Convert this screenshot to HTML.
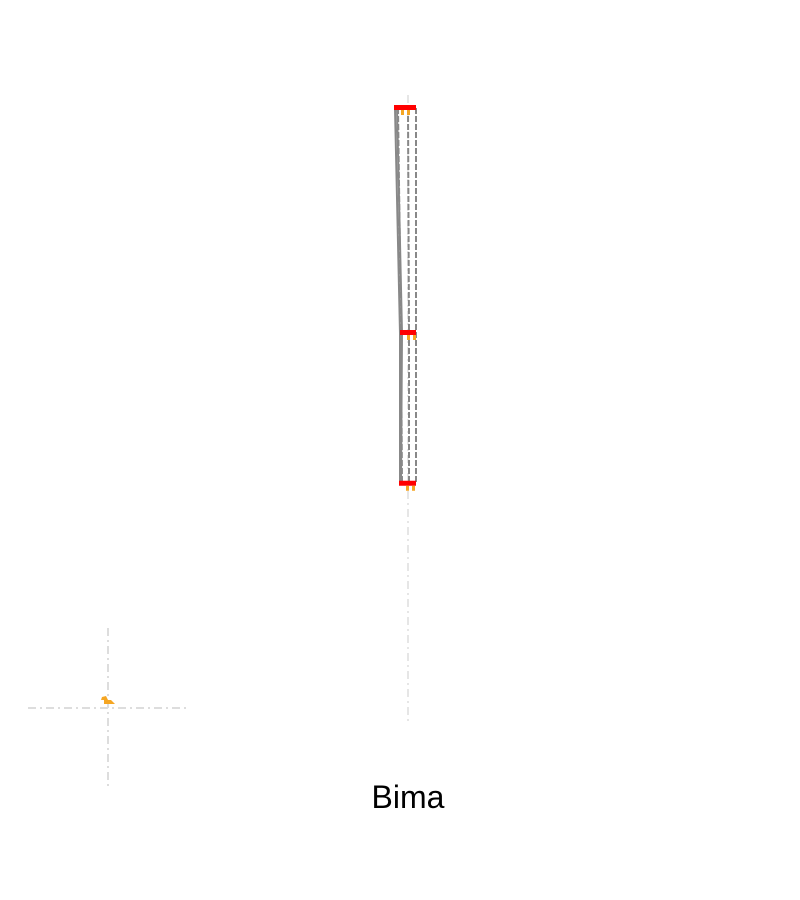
<!DOCTYPE html>
<html><head><meta charset="utf-8"><style>
html,body{margin:0;padding:0;background:#fff;width:800px;height:900px;overflow:hidden}
svg{display:block}
</style></head><body>
<svg id="chart" width="800" height="900" xmlns="http://www.w3.org/2000/svg">
<line x1="408" y1="95" x2="408" y2="722" stroke="#ddd" stroke-width="1.5" stroke-dasharray="8,4,2,4"/>
<line x1="28" y1="708" x2="188" y2="708" stroke="#ddd" stroke-width="2" stroke-dasharray="8,4,2,4"/>
<line x1="108" y1="628" x2="108" y2="788" stroke="#ddd" stroke-width="2" stroke-dasharray="8,4,2,4"/>
<g id="marks"></g>
<polygon points="102,697 106,696 108,700 111,700 115,704 104,704 104,700 101,700" fill="#f5a623"/>
<text x="408" y="808" text-anchor="middle" font-family="Liberation Sans, sans-serif" font-size="32" fill="#000">Bima</text>
</svg>
<script>
const levels = [0, 1, 1.67];
const solidSeries = [[395, 400, 400], [397, 402, 401]];
const dashedSeries = [[398, 401, 402], [408, 409, 409], [416, 416, 416]];
const redBars = [[394, 416], [400, 416], [399, 416]];
const NS = 'http://www.w3.org/2000/svg';
const y = v => 108 + v * 225;
const g = document.getElementById('marks');
function path(xs){return xs.map((x,i)=>(i?'L':'M')+x+','+y(levels[i])).join(' ');}
solidSeries.forEach(s=>{
  const p=document.createElementNS(NS,'path');
  p.setAttribute('d',path(s));p.setAttribute('stroke','#888');p.setAttribute('stroke-width','2');p.setAttribute('fill','none');
  
  
  g.appendChild(p);
});
dashedSeries.forEach(s=>{
  const p=document.createElementNS(NS,'path');
  p.setAttribute('d',path(s));p.setAttribute('stroke','#888');p.setAttribute('stroke-width','2');p.setAttribute('fill','none');p.setAttribute('stroke-dasharray','6,2');
  
  
  g.appendChild(p);
});
redBars.forEach((b,i)=>{
  const r=document.createElementNS(NS,'rect');
  r.setAttribute('x',b[0]);r.setAttribute('y',y(levels[i])-3);r.setAttribute('width',b[1]-b[0]);r.setAttribute('height',5);r.setAttribute('fill','#f00');
  
  
  g.appendChild(r);
  [b[0]+7, b[0]+13].forEach(x=>{
    const o=document.createElementNS(NS,'rect');
    o.setAttribute('x',x);o.setAttribute('y',y(levels[i])+2);o.setAttribute('width',3);o.setAttribute('height',5);o.setAttribute('fill','#f5a623');
    
    
    g.appendChild(o);
  });
});
</script>
</body></html>
